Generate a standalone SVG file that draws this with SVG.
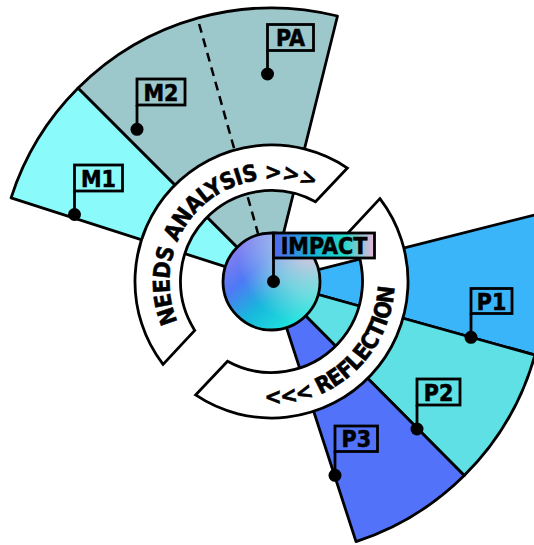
<svg xmlns="http://www.w3.org/2000/svg" width="534" height="545" viewBox="0 0 534 545">
  <defs>
    <linearGradient id="hubBase" x1="0.15" y1="0.1" x2="0.85" y2="0.95">
      <stop offset="0" stop-color="#8a7ff0"/>
      <stop offset="0.3" stop-color="#4f78f5"/>
      <stop offset="0.6" stop-color="#18b8dc"/>
      <stop offset="1" stop-color="#22eedc"/>
    </linearGradient>
    <radialGradient id="hubGlow" cx="0.9" cy="0.2" r="0.75">
      <stop offset="0" stop-color="#f2c6dc" stop-opacity="0.9"/>
      <stop offset="0.55" stop-color="#c8e8e4" stop-opacity="0.5"/>
      <stop offset="1" stop-color="#c8f0ec" stop-opacity="0"/>
    </radialGradient>
    <linearGradient id="tagFill" x1="0" y1="0" x2="1" y2="0">
      <stop offset="0" stop-color="#5266f2"/>
      <stop offset="0.4" stop-color="#14b4d4"/>
      <stop offset="0.7" stop-color="#22d8c8"/>
      <stop offset="1" stop-color="#eab6da"/>
    </linearGradient>
    <!-- baselines for the curved band captions -->
    <path id="needsArc" d="M 192.79 346.38 A 102 102 0 0 1 337.74 203.94"/>
    <path id="reflArc" d="M 187.61 371.46 A 123 123 0 0 0 369.73 207.48"/>
  </defs>
  <style>
    .edge { stroke: #000; stroke-width: 2.8; stroke-linejoin: round; }
    .band { fill: #fff; stroke: #000; stroke-width: 2.8; stroke-linejoin: miter; }
    .bandText { font-family: "DejaVu Sans Condensed", "DejaVu Sans", sans-serif; font-stretch: condensed; font-weight: bold; font-size: 23px; letter-spacing: -0.6px; fill: #000; stroke: #000; stroke-width: 0.5; }
    .tag rect { fill: none; stroke: #000; stroke-width: 2.8; }
    .tag line { stroke: #000; stroke-width: 2.8; }
    .tag circle { fill: #000; }
    .tag text { font-family: "DejaVu Sans Condensed", "DejaVu Sans", sans-serif; font-stretch: condensed; font-weight: bold; font-size: 23px; fill: #000; stroke: #000; stroke-width: 0.5; text-anchor: middle; }
  </style>

  <!-- outer sectors -->
  <g id="sector-m1"><path class="edge" fill="#8afafb" d="M 271.5 281.5 L 11.09 197.89 A 273.5 273.5 0 0 1 78.11 88.11 Z"/></g>
  <g id="sector-m2-pa"><path class="edge" fill="#9dc8cb" d="M 271.5 281.5 L 78.11 88.11 A 273.5 273.5 0 0 1 337.5 16 Z"/></g>
  <g id="sector-p1"><path class="edge" fill="#3ab5fa" d="M 271.5 281.5 L 536.64 214.41 A 273.5 273.5 0 0 1 534.92 355.05 Z"/></g>
  <g id="sector-p2"><path class="edge" fill="#5ee0e4" d="M 271.5 281.5 L 534.92 355.05 A 273.5 273.5 0 0 1 464.22 475.57 Z"/></g>
  <g id="sector-p3"><path class="edge" fill="#5272fa" d="M 271.5 281.5 L 464.22 475.57 A 273.5 273.5 0 0 1 356.02 541.61 Z"/></g>

  <!-- connectors -->
  <g id="connectors">
    <line x1="258.38" y1="234.81" x2="197.49" y2="18.20" stroke="#000" stroke-width="2.5" stroke-dasharray="9 6"/>
  </g>

  <!-- process bands -->
  <g id="band-needs">
    <path class="band" d="M 163.06 364.41 A 136.5 136.5 0 0 1 347.44 168.07 L 315.48 201.83 A 91 91 0 0 0 194.75 330.39 Z"/>
    <text class="bandText"><textPath href="#needsArc" startOffset="50%" text-anchor="middle">NEEDS ANALYSIS &gt;&gt;&gt;</textPath></text>
  </g>
  <g id="band-reflection">
    <path class="band" d="M 379.94 198.59 A 136.5 136.5 0 0 1 195.56 394.93 L 227.52 361.17 A 91 91 0 0 0 348.25 232.61 Z"/>
    <text class="bandText"><textPath href="#reflArc" startOffset="50%" text-anchor="middle">&lt;&lt;&lt; REFLECTION</textPath></text>
  </g>

  <!-- hub -->
  <g id="hub">
    <circle cx="271.5" cy="281.5" r="48.5" fill="url(#hubBase)"/>
    <circle cx="271.5" cy="281.5" r="48.5" fill="url(#hubGlow)" stroke="#000" stroke-width="2.8"/>
  </g>

  <!-- tags -->
  <g id="tag-impact" class="tag">
    <line x1="273.5" y1="233" x2="273.5" y2="281.5"/>
    <rect x="273.5" y="233" width="101" height="25" style="fill:url(#tagFill)"/>
    <text x="324" y="254">IMPACT</text>
    <circle cx="273.5" cy="281.5" r="6.5"/>
  </g>
  <g id="tag-m1" class="tag">
    <line x1="74.5" y1="191" x2="74.5" y2="214.5"/>
    <rect x="74.5" y="165" width="48" height="26"/>
    <text x="98.5" y="186.5">M1</text>
    <circle cx="74.5" cy="214.5" r="6.5"/>
  </g>
  <g id="tag-m2" class="tag">
    <line x1="137" y1="105" x2="137" y2="129.3"/>
    <rect x="137" y="79" width="48" height="26"/>
    <text x="161" y="100.5">M2</text>
    <circle cx="137" cy="129.3" r="6.5"/>
  </g>
  <g id="tag-pa" class="tag">
    <line x1="267.5" y1="50.5" x2="267.5" y2="74"/>
    <rect x="267.5" y="24.5" width="46" height="26"/>
    <text x="290.5" y="46">PA</text>
    <circle cx="267.5" cy="74" r="6.5"/>
  </g>
  <g id="tag-p1" class="tag">
    <line x1="471" y1="313.5" x2="471" y2="337.3"/>
    <rect x="471" y="288.5" width="41" height="25"/>
    <text x="491.5" y="309.5">P1</text>
    <circle cx="471" cy="337.3" r="6.5"/>
  </g>
  <g id="tag-p2" class="tag">
    <line x1="417" y1="405" x2="417" y2="429"/>
    <rect x="417" y="379" width="43" height="26"/>
    <text x="438.5" y="400.5">P2</text>
    <circle cx="417" cy="429" r="6.5"/>
  </g>
  <g id="tag-p3" class="tag">
    <line x1="335" y1="451.5" x2="335" y2="475.3"/>
    <rect x="335" y="426" width="42.5" height="25.5"/>
    <text x="356.25" y="447">P3</text>
    <circle cx="335" cy="475.3" r="6.5"/>
  </g>
</svg>
